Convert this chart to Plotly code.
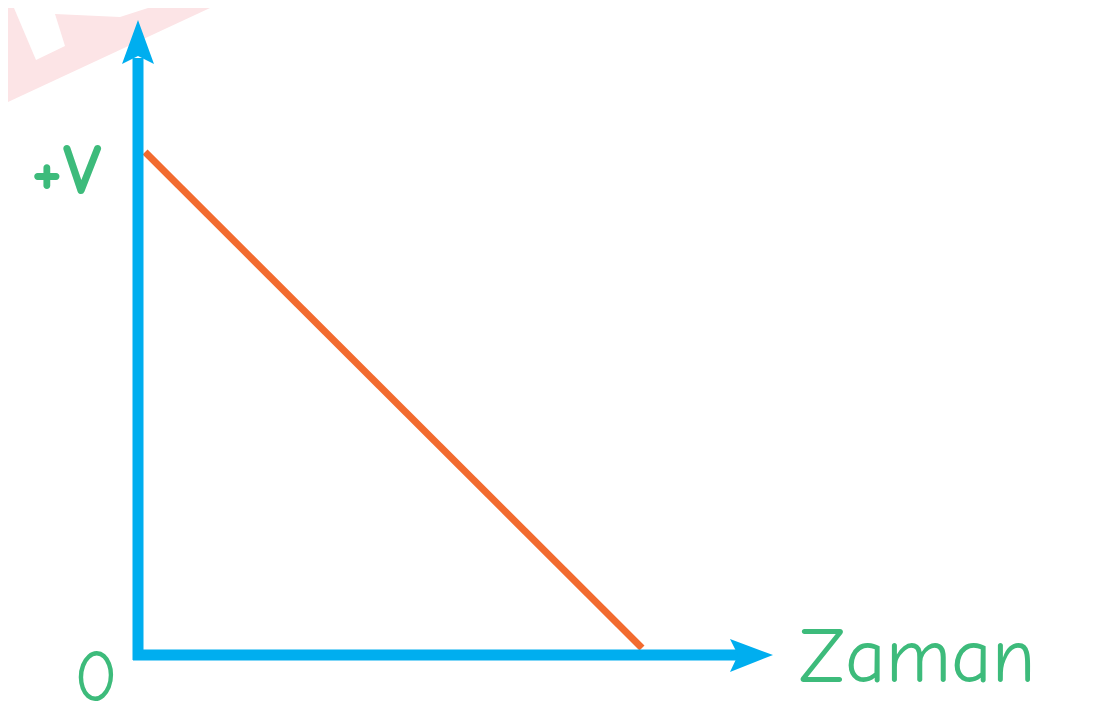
import plotly.graph_objects as go

# ---- data (velocity decreasing linearly to zero over time) ----
time_values = [0.014, 1.0]
velocity_values = [1.0, 0.014]
y_label_top = "+V"
origin_label = "0"
x_axis_label = "Zaman"

# ---- layout constants (pixels, in page coordinates) ----
W, H = 1097, 728
PAGE_OFF = 8                      # default body margin of the html page
FW, FH = W - 2 * PAGE_OFF, H - 2 * PAGE_OFF
OX, OY = 138, 655                 # page pixel position of the data origin
SX, SY = 504, 503                 # pixels per data unit

ox, oy = OX - PAGE_OFF, OY - PAGE_OFF
x_range = [-ox / SX, (FW - ox) / SX]
y_range = [-(FH - oy) / SY, oy / SY]

BLUE = "#00AEEF"
GREEN = "#3DBB7B"
ORANGE = "#F26B2F"
FONT = "Comic Sans MS, Comic Neue, Lato, sans-serif"


def px(x, y):
    """page pixel -> paper coordinates"""
    return (x - PAGE_OFF) / FW, 1 - (y - PAGE_OFF) / FH


def path(points):
    pts = [px(x, y) for x, y in points]
    return "M " + " L ".join(f"{a:.5f},{b:.5f}" for a, b in pts) + " Z"


fig = go.Figure()
fig.add_trace(go.Scatter(
    x=time_values, y=velocity_values, mode="lines",
    line=dict(color=ORANGE, width=7), hoverinfo="skip", showlegend=False,
))

shapes = []
# faint watermark fragment in the top-left corner
shapes.append(dict(type="path", xref="paper", yref="paper", layer="below",
                   path=path([(PAGE_OFF, PAGE_OFF), (226 - 2 * PAGE_OFF, PAGE_OFF), (PAGE_OFF, 110 - PAGE_OFF)]),
                   fillcolor="#FCE4E6", line=dict(width=0)))
shapes.append(dict(type="path", xref="paper", yref="paper", layer="below",
                   path=path([(14, 8), (36, 60), (65, 46), (55, 14), (120, 17), (148, 8)]),
                   fillcolor="white", line=dict(width=0)))
# axes lines
shapes.append(dict(type="line", xref="paper", yref="paper",
                   x0=px(OX, 660)[0], y0=px(OX, 660)[1], x1=px(OX, 58)[0], y1=px(OX, 58)[1],
                   line=dict(color=BLUE, width=11)))
shapes.append(dict(type="line", xref="paper", yref="paper",
                   x0=px(133, OY)[0], y0=px(133, OY)[1], x1=px(740, OY)[0], y1=px(740, OY)[1],
                   line=dict(color=BLUE, width=11)))
# arrow heads
shapes.append(dict(type="path", xref="paper", yref="paper",
                   path=path([(OX, 20), (154, 64), (OX, 56), (122, 64)]),
                   fillcolor=BLUE, line=dict(width=0)))
shapes.append(dict(type="path", xref="paper", yref="paper",
                   path=path([(773, OY), (730, 639), (738, OY), (730, 672)]),
                   fillcolor=BLUE, line=dict(width=0)))

annotations = [
    dict(text=f"<b>{y_label_top}</b>", xref="paper", yref="paper",
         x=px(66, 171)[0], y=px(66, 171)[1], showarrow=False,
         font=dict(family=FONT, size=72, color=GREEN), xanchor="center", yanchor="middle"),
    dict(text=origin_label, xref="paper", yref="paper",
         x=px(96, 720)[0], y=0, showarrow=False, borderpad=0,
         font=dict(family=FONT, size=72, color=GREEN), xanchor="center", yanchor="bottom"),
    dict(text=x_axis_label, xref="paper", yref="paper",
         x=px(797, 656)[0], y=px(797, 656)[1], showarrow=False,
         font=dict(family=FONT, size=79, color=GREEN), xanchor="left", yanchor="middle"),
]

fig.update_layout(
    width=FW, height=FH,
    margin=dict(l=0, r=0, t=0, b=0),
    paper_bgcolor="white", plot_bgcolor="white",
    xaxis=dict(range=x_range, visible=False, fixedrange=True),
    yaxis=dict(range=y_range, visible=False, fixedrange=True),
    shapes=shapes, annotations=annotations,
)

fig.write_html("out.html")
